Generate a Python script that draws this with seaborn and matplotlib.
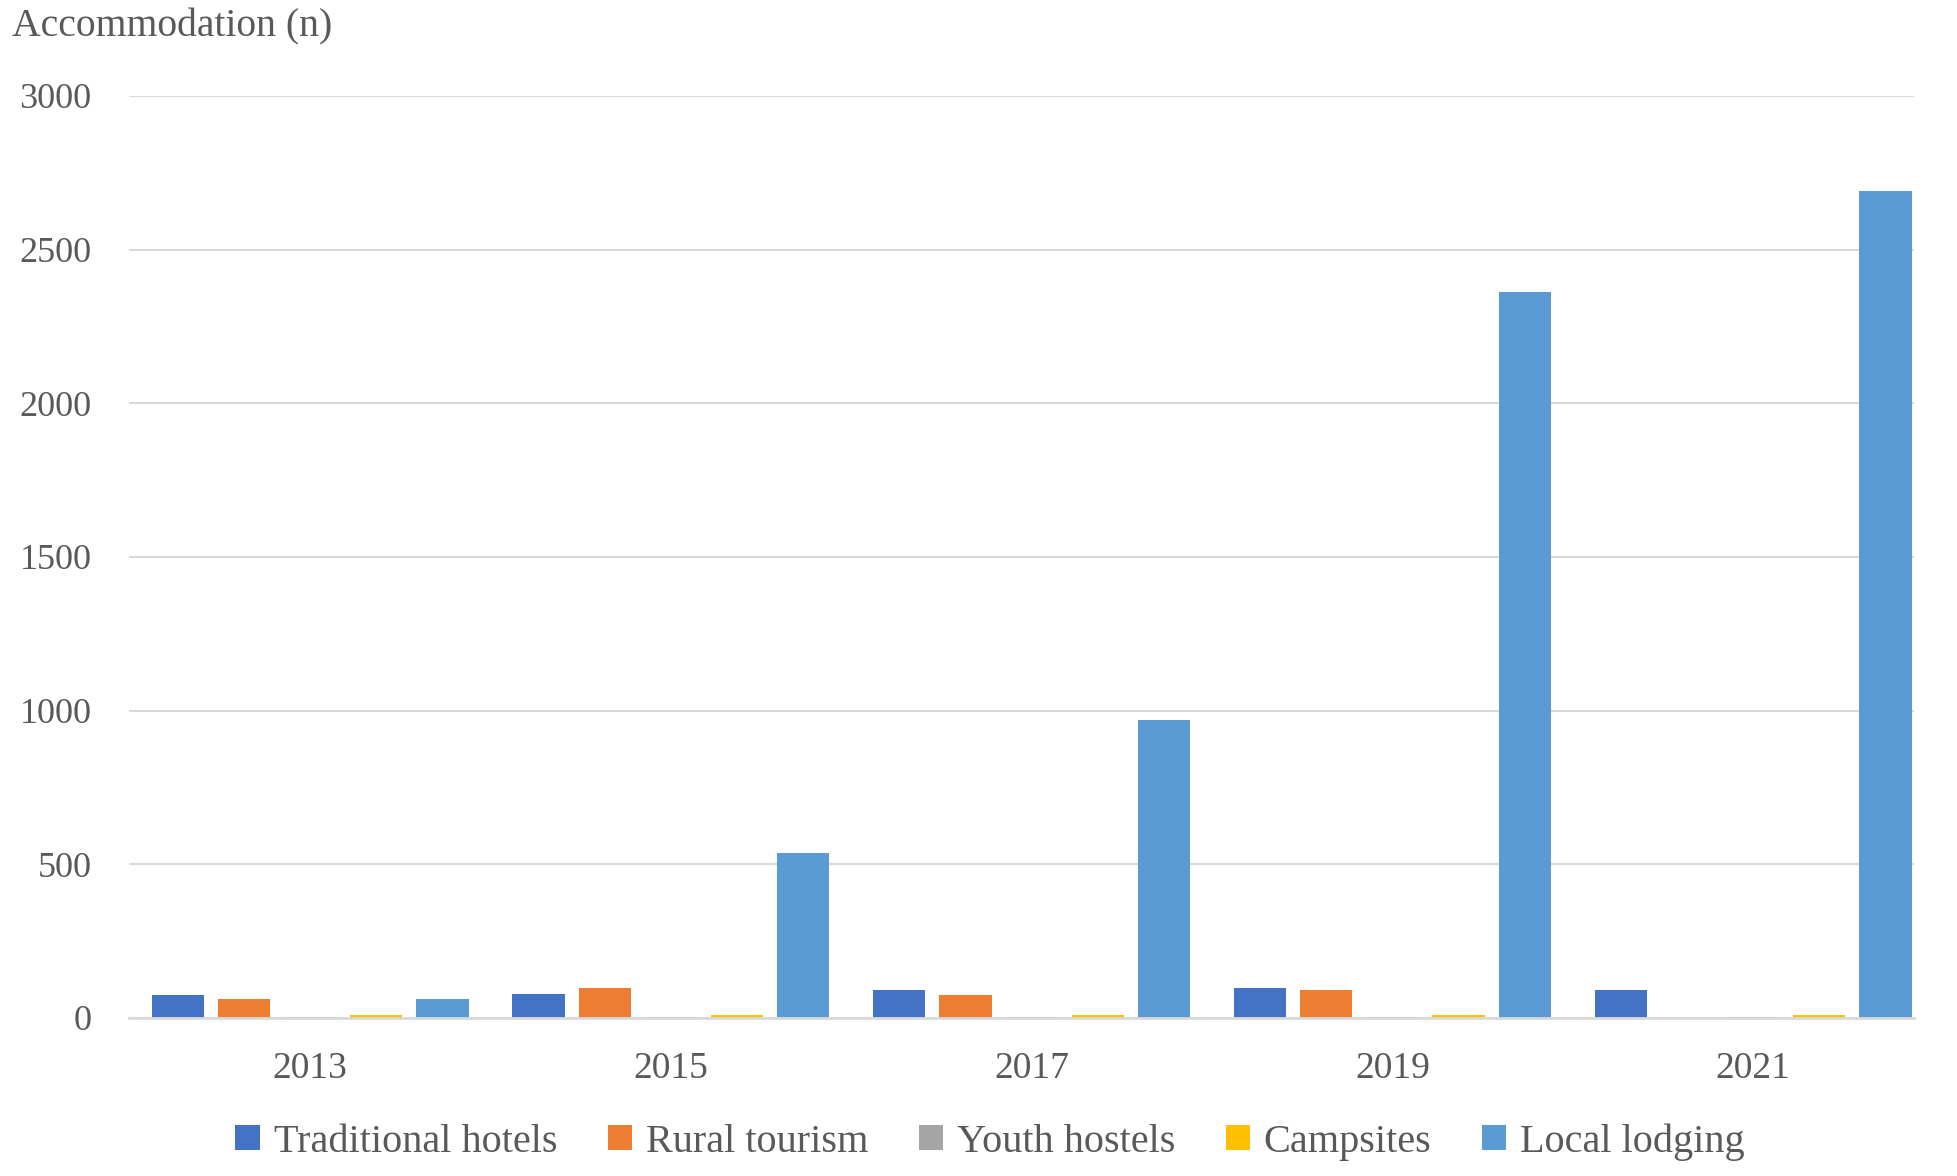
import matplotlib
matplotlib.use("Agg")
import matplotlib.pyplot as plt
import seaborn as sns
import pandas as pd

years = ["2013", "2015", "2017", "2019", "2021"]
series = ["Traditional hotels", "Rural tourism", "Youth hostels", "Campsites", "Local lodging"]
traditional_hotels = [76, 79, 91, 96, 91]
rural_tourism = [63, 96, 76, 91, 0]
youth_hostels = [2, 2, 2, 2, 2]
campsites = [8, 8, 8, 8, 8]
local_lodging = [63, 536, 970, 2363, 2692]
colors = ["#4472C4", "#ED7D31", "#A5A5A5", "#FFC000", "#5B9BD5"]

values = [traditional_hotels, rural_tourism, youth_hostels, campsites, local_lodging]
rows = []
for s, vals in zip(series, values):
    for y, v in zip(years, vals):
        rows.append({"year": y, "series": s, "value": v})
df = pd.DataFrame(rows)

sns.set_theme(style="white")
plt.rcParams["font.family"] = ["Liberation Serif", "DejaVu Serif"]
txt = "#595959"

fig = plt.figure(figsize=(19.58, 11.76), dpi=100)
ax = fig.add_axes([0.0659, 0.1344, 0.9116, 0.784])

sns.barplot(data=df, x="year", y="value", hue="series", order=years, hue_order=series,
            palette=colors, width=0.917, gap=0.21, linewidth=0, saturation=1,
            ax=ax, zorder=3)

ax.set_xlim(-0.502, 4.446)
ax.set_ylim(0, 3000)
ax.set_yticks([0, 500, 1000, 1500, 2000, 2500, 3000])
ax.yaxis.grid(True, color="#d9d9d9", linewidth=1.5, zorder=0)
ax.xaxis.grid(False)
for sp in ["top", "right", "left"]:
    ax.spines[sp].set_visible(False)
ax.spines["bottom"].set_color("#d9d9d9")
ax.spines["bottom"].set_linewidth(2)
ax.spines["bottom"].set_zorder(4)
ax.tick_params(axis="both", length=0, colors=txt)
ax.tick_params(axis="x", pad=24, labelsize=27)
ax.tick_params(axis="y", pad=27, labelsize=26)
ax.set_xlabel("")
ax.set_ylabel("")

fig.text(0.006, 0.993, "Accommodation (n)", fontsize=28.5, color=txt, ha="left", va="top")

handles, labels = ax.get_legend_handles_labels()
ax.legend_.remove()
fig.legend(handles, labels, loc="center", bbox_to_anchor=(0.5057, 0.029),
           ncol=5, frameon=False, fontsize=29, labelcolor=txt,
           handlelength=0.6, handleheight=0.6, handletextpad=0.35, columnspacing=1.25)

fig.savefig("out.png", dpi=100)
